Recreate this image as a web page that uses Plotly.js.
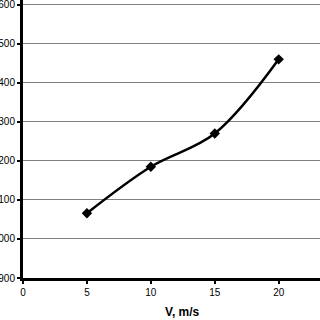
<!DOCTYPE html>
<html><head><meta charset="utf-8">
<script src="https://cdn.plot.ly/plotly-3.0.1.min.js"></script>
<style>html,body{margin:0;padding:0;background:#fff}#c{width:320px;height:320px}</style>
</head><body><div id="c"></div>
<script>
const speeds = [5, 10, 15, 20];
const values = [1066, 1185, 1270, 1460];
const xTicks = [0, 5, 10, 15, 20];
const yTicks = [900, 1000, 1100, 1200, 1300, 1400, 1500, 1600];
const xTitle = 'V, m/s';

Plotly.newPlot('c', [{
  x: speeds, y: values, type: 'scatter', mode: 'lines+markers',
  line: {color: '#000', width: 2.5, shape: 'spline', smoothing: 1},
  marker: {symbol: 'diamond', size: 8, color: '#000'}
}], {
  width: 320, height: 320,
  margin: {l: 23, r: 0, t: 0, b: 42, pad: 0},
  autosize: false,
  paper_bgcolor: '#fff', plot_bgcolor: '#fff',
  showlegend: false,
  font: {family: 'Liberation Sans, Arial, sans-serif', size: 10, color: '#000'},
  xaxis: {
    range: [0, 23.23], tickvals: xTicks, ticktext: xTicks.map(String),
    showgrid: false, zeroline: false, showline: true, linecolor: '#000', linewidth: 3,
    ticks: 'outside', ticklen: 3, tickwidth: 2, tickcolor: '#000',
    tickfont: {size: 10}, automargin: false
  },
  yaxis: {
    range: [900, 1612], autorange: false, tickmode: 'array', tickvals: yTicks, ticktext: yTicks.map(String),
    showgrid: true, gridcolor: '#808080', gridwidth: 1,
    zeroline: false, showline: true, linecolor: '#000', linewidth: 3,
    ticks: 'outside', ticklen: 3, tickwidth: 2, tickcolor: '#000',
    tickfont: {size: 10}, automargin: false, ticklabeloverflow: 'allow'
  },
  annotations: [{
    text: '<b>' + xTitle + '</b>', xref: 'x', yref: 'paper', x: 12.5, y: 0,
    yshift: -34, yanchor: 'middle', xanchor: 'center', showarrow: false,
    font: {size: 12, color: '#000'}
  }]
}, {staticPlot: true});
</script></body></html>
